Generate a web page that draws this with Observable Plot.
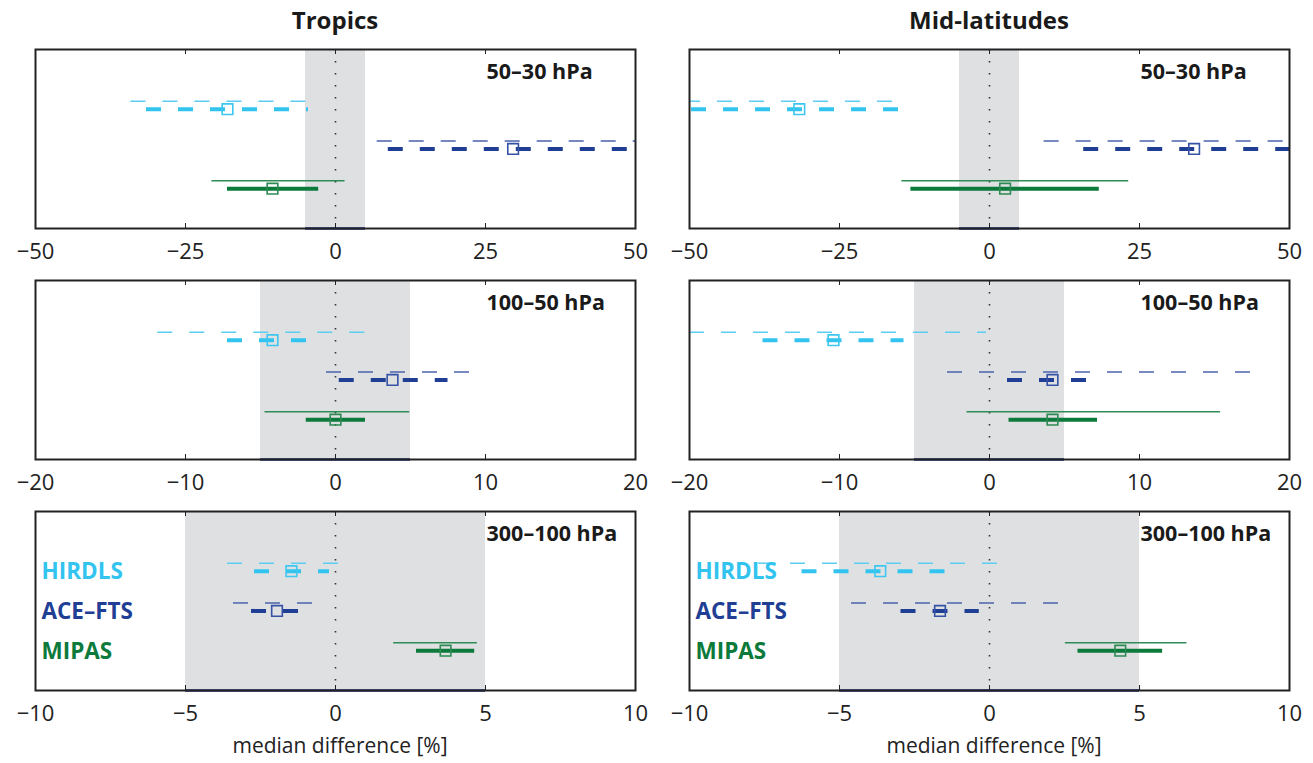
<!DOCTYPE html>
<html><head><meta charset="utf-8">
<script src="https://cdn.jsdelivr.net/npm/d3@7"></script>
<script src="https://cdn.jsdelivr.net/npm/@observablehq/plot@0.6"></script>
<style>
body{margin:0;background:#fff;font-family:"Open Sans",sans-serif;}
#root{position:relative;width:1313px;height:763px;overflow:hidden;background:#fff;}
.title{position:absolute;top:8px;width:400px;text-align:center;font-weight:bold;font-size:24px;line-height:24px;color:#1a1a1a;white-space:nowrap;}
.xlabel{position:absolute;top:735px;width:400px;text-align:center;font-size:21px;line-height:21px;color:#222;white-space:nowrap;}
.panel{position:absolute;}
</style></head><body><div id="root"></div>
<script>
// ---------- data ----------
const regions = ["Tropics", "Mid-latitudes"];
const layers = ["50–30 hPa", "100–50 hPa", "300–100 hPa"];
const instruments = ["HIRDLS", "ACE–FTS", "MIPAS"];
const xLimits = [50, 20, 10];
const xTicks = [[-50, -25, 0, 25, 50], [-20, -10, 0, 10, 20], [-10, -5, 0, 5, 10]];
const bandHalfWidth = 5;

// panel order: Tropics 50–30, 100–50, 300–100, Mid-latitudes 50–30, 100–50, 300–100
const hirdlsMedian   = [-18.0, -4.2, -1.47, -31.7, -10.4, -3.64];
const hirdlsRangeLo  = [-31.5, -7.2, -2.7, -55, -15.1, -6.25];
const hirdlsRangeHi  = [-4.5, -1.9, -0.2, -15.1, -5.7, -1.47];
const hirdlsSpreadLo = [-34.1, -11.85, -3.6, -56, -20, -7.7];
const hirdlsSpreadHi = [-4.7, 2.0, 0.1, -15.4, -0.2, 0.3];

const aceMedian   = [29.6, 3.8, -1.95, 34.1, 4.2, -1.65];
const aceRangeLo  = [8.8, 0.25, -2.8, 15.7, 1.2, -2.95];
const aceRangeHi  = [54, 7.5, -1.2, 54, 6.5, -0.34];
const aceSpreadLo = [6.95, -0.6, -3.4, 9.1, -2.8, -4.6];
const aceSpreadHi = [55, 9.0, -0.2, 55, 17.5, 2.4];

const mipasMedian   = [-10.5, 0.0, 3.67, 2.6, 4.2, 4.36];
const mipasRangeLo  = [-18.0, -1.95, 2.7, -13.1, 1.3, 2.95];
const mipasRangeHi  = [-2.8, 2.0, 4.64, 18.3, 7.2, 5.77];
const mipasSpreadLo = [-20.6, -4.7, 1.94, -14.6, -1.5, 2.53];
const mipasSpreadHi = [1.6, 4.95, 4.73, 23.2, 15.4, 6.58];

// ---------- styles ----------
const styles = {
  "HIRDLS":  {thick: "#33c3ef", thin: "#5ccdf1", box: "#3cc6f0", text: "#33c3ef", dash: "15,17"},
  "ACE–FTS": {thick: "#213e95", thin: "#4a64ad", box: "#3552a6", text: "#213e95", dash: "15,17"},
  "MIPAS":   {thick: "#0c7a3b", thin: "#2f8c55", box: "#2d8a53", text: "#0c7a3b", dash: null}
};
const series = [
  [hirdlsMedian, hirdlsRangeLo, hirdlsRangeHi, hirdlsSpreadLo, hirdlsSpreadHi],
  [aceMedian, aceRangeLo, aceRangeHi, aceSpreadLo, aceSpreadHi],
  [mipasMedian, mipasRangeLo, mipasRangeHi, mipasSpreadLo, mipasSpreadHi]
];

const root = document.getElementById("root");
const FONT = "'Open Sans', sans-serif";

regions.forEach((region, r) => {
  const t = document.createElement("div");
  t.className = "title";
  t.textContent = region;
  t.style.left = (r === 0 ? 335 : 989) - 200 + "px";
  root.appendChild(t);
  const xl = document.createElement("div");
  xl.className = "xlabel";
  xl.textContent = "median difference [%]";
  xl.style.left = (r === 0 ? 340 : 994) - 200 + "px";
  root.appendChild(xl);

  layers.forEach((layer, l) => {
    const p = r * 3 + l;
    const lim = xLimits[l];
    const rows = instruments.map((name, i) => ({
      name, pos: i + 1.5,
      median: series[i][0][p], lo: series[i][1][p], hi: series[i][2][p],
      slo: series[i][3][p], shi: series[i][4][p]
    }));
    const marks = [
      Plot.rect([bandHalfWidth], {x1: d => -d, x2: d => d, fill: "#dfe0e2"}),
      Plot.ruleX([0], {stroke: "#333", strokeWidth: 1.6, strokeDasharray: "1.6,10.4"}),
      Plot.ruleY([4.5], {x1: d => -bandHalfWidth, x2: d => bandHalfWidth, stroke: "#1d2b78", strokeWidth: 2.5}),
    ];
    rows.forEach(row => {
      const s = styles[row.name];
      marks.push(
        Plot.ruleY([row], {y: "pos", x1: "slo", x2: "shi", dy: -8, stroke: s.thin, strokeWidth: 1.5,
          strokeDasharray: s.dash, clip: true}),
        Plot.ruleY([row], {y: "pos", x1: "lo", x2: "hi", stroke: s.thick, strokeWidth: 4,
          strokeDasharray: s.dash, clip: true}),
        Plot.dot([row], {x: "median", y: "pos", symbol: "square", r: 6, stroke: s.box, strokeWidth: 1.6, fill: "none"})
      );
      if (l === 2) {
        marks.push(Plot.text([row], {y: "pos", text: "name", frameAnchor: "left", dx: 6, dy: 1, textAnchor: "start",
          fill: s.text, fontWeight: "bold", fontSize: 22.5, fontFamily: FONT}));
      }
    });
    marks.push(
      Plot.text([layer], {text: d => d, frameAnchor: "top-left", dx: 451, dy: 23, textAnchor: "start",
        lineAnchor: "middle", fontWeight: "bold", fontSize: 21.5, fill: "#1a1a1a", fontFamily: FONT}),
      Plot.ruleX(xTicks[l], {x: d => d, insetBottom: 174, stroke: "#222", strokeWidth: 1}),
      Plot.ruleX(xTicks[l], {x: d => d, insetTop: 174, stroke: "#222", strokeWidth: 1}),
      Plot.frame({stroke: "#222", strokeWidth: 2}),
      Plot.axisX({ticks: xTicks[l], tickSize: 0, tickPadding: 15, fontSize: 22, fill: "#222",
        tickFormat: d => (d < 0 ? "\u2212" + Math.abs(d) : String(d))})
    );
    const chart = Plot.plot({
      width: 659, height: 229,
      marginLeft: 35, marginRight: 24, marginTop: 10, marginBottom: 40,
      x: {domain: [-lim, lim]},
      y: {domain: [0, 4.5], reverse: true, axis: null},
      style: {fontFamily: FONT, fontSize: "22px", color: "#222", background: "transparent", overflow: "visible"},
      marks
    });
    const holder = document.createElement("div");
    holder.className = "panel";
    holder.style.left = (r === 0 ? 0 : 654) + "px";
    holder.style.top = ([49, 280, 511][l] - 10) + "px";
    holder.appendChild(chart);
    root.appendChild(holder);
  });
});
</script>
</body></html>
